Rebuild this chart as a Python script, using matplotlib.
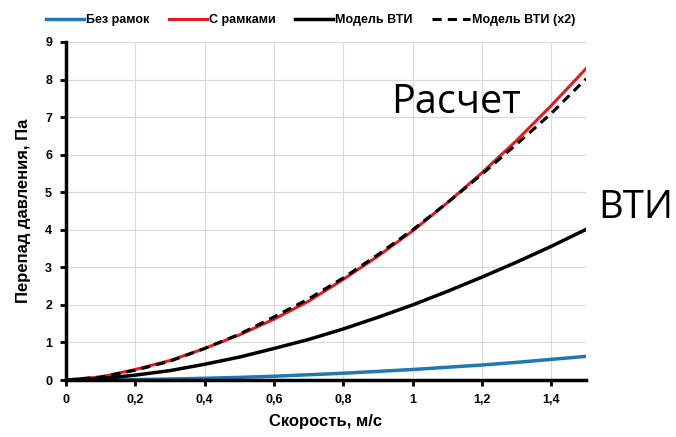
import numpy as np
import matplotlib
matplotlib.use('Agg')
import matplotlib.pyplot as plt

plt.rcParams['font.family'] = ['Liberation Sans', 'DejaVu Sans']

# скорость, м/с
v = [0, 0.1, 0.2, 0.3, 0.4, 0.5, 0.6, 0.7, 0.8, 0.9, 1.0, 1.1, 1.2, 1.3, 1.4, 1.5]
# перепад давления, Па
dp_bez = [0, 0.003, 0.012, 0.026, 0.046, 0.07, 0.10, 0.14, 0.18, 0.23, 0.28, 0.34, 0.40, 0.47, 0.55, 0.63]
dp_ramki = [0, 0.08, 0.28, 0.52, 0.84, 1.2, 1.62, 2.1, 2.68, 3.3, 3.97, 4.72, 5.52, 6.38, 7.31, 8.29]
dp_vti = [0, 0.04, 0.13, 0.25, 0.42, 0.61, 0.84, 1.08, 1.36, 1.67, 2.0, 2.36, 2.74, 3.14, 3.56, 4.01]
dp_vti2 = [0, 0.08, 0.26, 0.5, 0.84, 1.22, 1.68, 2.16, 2.72, 3.34, 4.0, 4.72, 5.48, 6.28, 7.1, 8.02]

xticks = [0, 0.2, 0.4, 0.6, 0.8, 1.0, 1.2, 1.4]
xlabels = ['0', '0,2', '0,4', '0,6', '0,8', '1', '1,2', '1,4']

fig = plt.figure(figsize=(6.76, 4.37), dpi=100)
ax = fig.add_axes([0.0976, 0.1304, 0.7693, 0.7735])

l1, = ax.plot(v, dp_bez, color='#1f77b4', lw=2.5, label='Без рамок')
l2, = ax.plot(v, dp_ramki, color='#e41a1c', lw=2.2, label='С рамками')
l3, = ax.plot(v, dp_vti, color='black', lw=2.5, label='Модель ВТИ')
l4, = ax.plot(v, dp_vti2, color='black', lw=2.2, ls=(0, (3, 2)), label='Модель ВТИ (x2)')

ax.set_xlim(0, 1.5)
ax.set_ylim(0, 9)
ax.set_xticks(xticks)
ax.set_xticklabels(xlabels)
ax.set_yticks(range(10))
ax.grid(True, color='#d9d9d9', lw=0.8)
ax.set_axisbelow(True)
for s in ['top', 'right']:
    ax.spines[s].set_visible(False)
for s in ['left', 'bottom']:
    ax.spines[s].set_linewidth(2.5)
ax.tick_params(direction='out', length=4, width=2, labelsize=9, pad=6)
for t in ax.get_xticklabels() + ax.get_yticklabels():
    t.set_fontweight('bold')

ax.set_xlabel('Скорость, м/с', fontsize=12, fontweight='bold', labelpad=6)
ax.set_ylabel('Перепад давления, Па', fontsize=12, fontweight='bold', labelpad=10)

fig.legend(handles=[l1, l2, l3, l4], loc='upper left', bbox_to_anchor=(0.052, 0.993),
           ncol=4, frameon=False, prop={'size': 9, 'weight': 'bold'},
           handlelength=3.0, handletextpad=0.15, columnspacing=1.6)

fig.text(391 / 676, 1 - 103 / 437, 'Расчет', fontsize=28.5, va='center', ha='left',
         family=['Open Sans', 'DejaVu Sans'])
fig.text(598 / 676, 1 - 208 / 437, 'ВТИ', fontsize=27.5, va='center', ha='left',
         family=['Open Sans', 'DejaVu Sans'])

fig.savefig('out.png', dpi=100)
